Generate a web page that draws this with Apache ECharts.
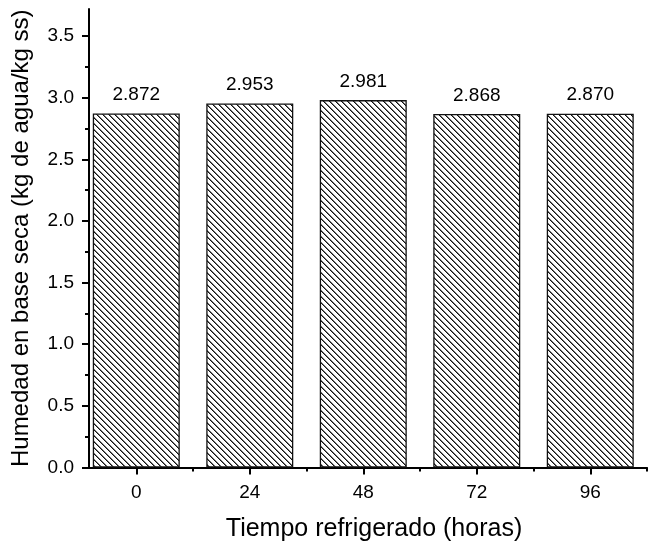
<!DOCTYPE html>
<html>
<head>
<meta charset="utf-8">
<script src="https://cdn.jsdelivr.net/npm/echarts@6/dist/echarts.min.js"></script>
<style>
  html, body { margin: 0; padding: 0; background: #fff; }
  #chart { width: 649px; height: 543px; }
</style>
</head>
<body>
<div id="chart"></div>
<script>
// Refrigeration time (hours) and dry-basis moisture (kg water / kg dry solids)
const hours = [0, 24, 48, 72, 96];
const moisture = [2.872, 2.953, 2.981, 2.868, 2.870];

// Axis ticks
const yMajorTicks = [0, 0.5, 1.0, 1.5, 2.0, 2.5, 3.0, 3.5];
const yMinorTicks = [0.25, 0.75, 1.25, 1.75, 2.25, 2.75, 3.25];
const xMajorTicks = [0, 24, 48, 72, 96];
const xMinorTicks = [12, 36, 60, 84, 108];

// Diagonal hatch fill ("\" direction) for the bars
function makeHatch() {
  const size = 6;
  const c = document.createElement('canvas');
  c.width = size; c.height = size;
  const ctx = c.getContext('2d');
  ctx.fillStyle = '#fff';
  ctx.fillRect(0, 0, size, size);
  for (let i = 0; i < size; i++) {
    ctx.fillStyle = '#111';
    ctx.fillRect(i, i, 1, 1);
    ctx.fillStyle = '#777';
    ctx.fillRect((i + 1) % size, i, 1, 1);
  }
  return c;
}

const font = "'Liberation Sans', Arial, sans-serif";
const chart = echarts.init(document.getElementById('chart'), null, { renderer: 'canvas' });

const barData = hours.map((h, i) => [h, moisture[i]]);

chart.setOption({
  animation: false,
  backgroundColor: '#fff',
  grid: { left: 89, right: 2, top: 9, bottom: 75.5, containLabel: false, outerBoundsMode: 'none' },
  xAxis: [
    {
      type: 'value', min: -10, max: 108,
      name: 'Tiempo refrigerado (horas)', nameLocation: 'middle', nameGap: 49,
      nameTextStyle: { fontFamily: font, fontSize: 25, color: '#000', padding: [0, 0, 0, 12] },
      axisLine: { show: true, onZero: false, lineStyle: { color: '#000', width: 2 } },
      axisTick: { show: true, length: 7, inside: false, customValues: xMajorTicks, lineStyle: { color: '#000', width: 2 } },
      axisLabel: { show: true, customValues: xMajorTicks, margin: 16, fontFamily: font, fontSize: 19, color: '#000' },
      splitLine: { show: false }
    },
    {
      type: 'value', min: -10, max: 108, position: 'bottom', gridIndex: 0,
      axisLine: { show: false, onZero: false },
      axisTick: { show: true, length: 4, customValues: xMinorTicks, lineStyle: { color: '#000', width: 2 } },
      axisLabel: { show: false },
      splitLine: { show: false }
    }
  ],
  yAxis: [
    {
      type: 'value', min: 0, max: 3.72, position: 'left',
      name: 'Humedad en base seca (kg de agua/kg ss)', nameLocation: 'middle', nameGap: 56, nameRotate: 90,
      nameTextStyle: { fontFamily: font, fontSize: 24, color: '#000' },
      axisLine: { show: true, onZero: false, lineStyle: { color: '#000', width: 2 } },
      axisTick: { show: true, length: 7, customValues: yMajorTicks, lineStyle: { color: '#000', width: 2 } },
      axisLabel: { show: true, customValues: yMajorTicks, margin: 15, fontFamily: font, fontSize: 19, color: '#000',
                   formatter: v => v.toFixed(1) },
      splitLine: { show: false }
    },
    {
      type: 'value', min: 0, max: 3.72, position: 'left', gridIndex: 0,
      axisLine: { show: false, onZero: false },
      axisTick: { show: true, length: 4, customValues: yMinorTicks, lineStyle: { color: '#000', width: 2 } },
      axisLabel: { show: false },
      splitLine: { show: false }
    }
  ],
  series: [
    {
      type: 'bar',
      xAxisIndex: 0, yAxisIndex: 0,
      data: barData,
      barWidth: 87,
      itemStyle: {
        color: { image: makeHatch(), repeat: 'repeat' },
        borderColor: '#111',
        borderWidth: 1.3
      },
      label: {
        show: true, position: 'top', distance: 9,
        fontFamily: font, fontSize: 19, color: '#000',
        formatter: p => p.value[1].toFixed(3)
      }
    }
  ]
});
</script>
</body>
</html>
